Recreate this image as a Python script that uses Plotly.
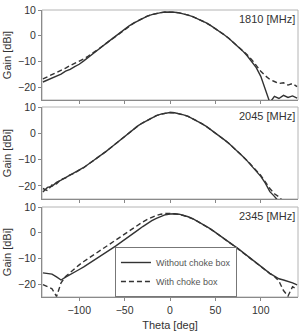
import plotly.graph_objects as go

theta = list(range(-140, 145, 5))

g1810_without = [-18.0, -17.2, -16.6, -15.6, -14.9, -13.8, -13.1, -12.0, -11.1, -9.8,
                 -8.5, -7.1, -5.7, -4.3, -2.9, -1.5, -0.1, 1.3, 2.6, 3.8,
                 4.9, 5.9, 6.8, 7.6, 8.2, 8.7, 9.0, 9.2, 9.2, 9.1,
                 8.9, 8.5, 8.0, 7.4, 6.7, 5.9, 5.0, 3.9, 2.8, 1.6,
                 0.3, -1.1, -2.6, -4.2, -5.9, -7.8, -9.9, -12.4, -15.8, -20.5,
                 -26.0, -23.6, -24.4, -23.2, -24.0, -23.4, -24.3]
g1810_with = [-16.8, -16.0, -15.2, -14.4, -13.3, -12.6, -11.6, -10.8, -9.9, -9.0,
              -7.9, -6.8, -5.5, -4.2, -2.9, -1.5, -0.1, 1.3, 2.6, 3.8,
              4.9, 5.9, 6.8, 7.6, 8.2, 8.7, 9.0, 9.2, 9.2, 9.1,
              8.9, 8.5, 8.0, 7.4, 6.7, 5.9, 5.0, 3.9, 2.8, 1.6,
              0.3, -1.1, -2.6, -4.2, -5.8, -7.4, -9.3, -11.6, -13.8, -15.6,
              -17.0, -17.8, -18.6, -18.3, -19.2, -18.6, -19.8]
g2045_without = [-22.3, -20.6, -20.2, -18.7, -17.8, -16.9, -15.9, -15.1, -14.1, -13.0,
                 -11.8, -10.6, -9.4, -8.1, -6.8, -5.4, -4.0, -2.6, -1.2, 0.2,
                 1.6, 2.9, 4.0, 5.0, 5.9, 6.7, 7.3, 7.7, 7.9, 7.8,
                 7.5, 7.0, 6.4, 5.6, 4.7, 3.7, 2.6, 1.4, 0.2, -1.1,
                 -2.5, -3.9, -5.4, -7.0, -8.7, -10.5, -12.4, -14.3, -16.4, -19.0,
                 -22.2, -24.0, -26.0, -27.0, -27.0, -27.0, -27.0]
g2045_with = [-21.0, -21.8, -19.6, -19.2, -17.6, -17.0, -15.8, -15.2, -14.0, -13.1,
              -11.8, -10.6, -9.4, -8.1, -6.8, -5.4, -4.0, -2.6, -1.2, 0.2,
              1.6, 2.9, 4.0, 5.0, 5.9, 6.7, 7.3, 7.7, 7.9, 7.8,
              7.5, 7.0, 6.4, 5.6, 4.7, 3.7, 2.6, 1.4, 0.2, -1.1,
              -2.5, -3.9, -5.4, -7.0, -8.7, -10.4, -12.2, -14.2, -16.0, -18.5,
              -21.0, -23.0, -24.2, -26.0, -27.0, -27.0, -27.0]
g2345_without = [-15.6, -15.9, -16.1, -17.2, -18.4, -17.3, -16.4, -15.5, -14.3, -13.3,
                 -12.2, -11.1, -9.9, -8.7, -7.6, -6.4, -5.2, -4.0, -2.8, -1.5,
                 -0.2, 1.1, 2.4, 3.6, 4.7, 5.6, 6.4, 7.0, 7.3, 7.4,
                 7.2, 6.8, 6.2, 5.5, 4.6, 3.6, 2.5, 1.4, 0.2, -1.0,
                 -2.3, -3.6, -4.9, -6.2, -7.6, -9.0, -10.4, -11.8, -13.2, -14.5,
                 -15.8, -16.9, -17.9, -18.4, -18.9, -19.5, -20.3]
g2345_with = [-20.2, -21.0, -21.8, -24.8, -19.5, -17.0, -15.4, -13.9, -12.5, -11.2,
              -10.0, -8.8, -7.6, -6.4, -5.2, -4.0, -2.8, -1.6, -0.4, 0.8,
              2.0, 3.1, 4.2, 5.2, 6.0, 6.7, 7.2, 7.5, 7.5, 7.4,
              7.1, 6.7, 6.1, 5.4, 4.5, 3.5, 2.4, 1.3, 0.1, -1.1,
              -2.4, -3.7, -5.0, -6.3, -7.7, -9.1, -10.5, -11.9, -13.3, -14.6,
              -15.9, -17.0, -18.8, -22.5, -24.6, -21.0, -22.0]

freq_labels = ["1810 [MHz]", "2045 [MHz]", "2345 [MHz]"]
series_without = [g1810_without, g2045_without, g2345_without]
series_with = [g1810_with, g2045_with, g2345_with]
x_ticks = [-100, -50, 0, 50, 100]
y_ticks = [10, 0, -10, -20]

FONT = "Liberation Sans, Arial, sans-serif"
LINE_COL = "#333333"

H = 287.0
domains = [[(287 - 90) / H, 1.0], [(287 - 189) / H, (287 - 97) / H], [0.0, 90 / H]]

fig = go.Figure()
for i in range(3):
    xa = "x" if i == 0 else f"x{i+1}"
    ya = "y" if i == 0 else f"y{i+1}"
    fig.add_trace(go.Scatter(x=theta, y=series_without[i], mode="lines",
                             line=dict(color=LINE_COL, width=1.4),
                             name="Without choke box", showlegend=(i == 2),
                             xaxis=xa, yaxis=ya))
    fig.add_trace(go.Scatter(x=theta, y=series_with[i], mode="lines",
                             line=dict(color=LINE_COL, width=1.4, dash="5px,3px"),
                             name="With choke box", showlegend=(i == 2),
                             xaxis=xa, yaxis=ya))

layout = dict(
    width=301, height=334,
    margin=dict(l=42, r=3, t=10, b=37),
    paper_bgcolor="white", plot_bgcolor="white",
    font=dict(family=FONT, size=10, color="#333333"),
    legend=dict(x=0.285, y=0.0, xanchor="left", yanchor="bottom",
                bordercolor="#777777", borderwidth=1, bgcolor="white",
                font=dict(size=9, color="#555555"), tracegroupgap=0,
                itemwidth=30),
)
for i in range(3):
    xk = "xaxis" if i == 0 else f"xaxis{i+1}"
    yk = "yaxis" if i == 0 else f"yaxis{i+1}"
    ya = "y" if i == 0 else f"y{i+1}"
    xa = "x" if i == 0 else f"x{i+1}"
    layout[xk] = dict(range=[-141, 141], tickvals=x_ticks, showticklabels=(i == 2),
                      ticks="outside", ticklen=3, tickcolor="#888888",
                      showline=True, linecolor="#8a8a8a", linewidth=1, mirror=False,
                      showgrid=False, zeroline=False, anchor=ya,
                      tickfont=dict(size=10.5, color="#333333"))
    if i != 0:
        layout[xk]["matches"] = "x"
    layout[yk] = dict(domain=domains[i], range=[-25, 10], tickvals=y_ticks,
                      ticks="outside", ticklen=3, tickcolor="#888888",
                      showline=True, linecolor="#8a8a8a", linewidth=1, mirror=False,
                      showgrid=False, zeroline=False, anchor=xa,
                      tickfont=dict(size=10.5, color="#333333"),
                      title=dict(text="Gain [dBi]", font=dict(size=11, color="#333333"),
                                 standoff=4))
layout["xaxis3"]["title"] = dict(text="Theta [deg]", font=dict(size=11, color="#333333"),
                                 standoff=6)
fig.update_layout(**layout)

for i in range(3):
    xr = "x domain" if i == 0 else f"x{i+1} domain"
    yr = "y domain" if i == 0 else f"y{i+1} domain"
    fig.add_shape(type="rect", xref=xr, yref=yr, x0=0, x1=1, y0=0, y1=1,
                  line=dict(color="#b4b4b4", width=1), layer="below")
    fig.add_annotation(x=0.995, y=0.99, xref=xr, yref=yr, xanchor="right", yanchor="top",
                       text=freq_labels[i], showarrow=False,
                       font=dict(size=11, color="#333333"))

fig.write_html("out.html")
